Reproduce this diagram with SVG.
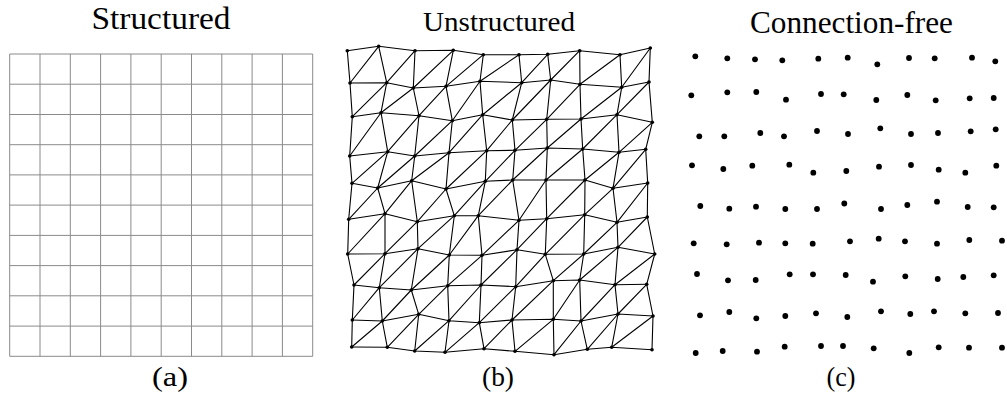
<svg xmlns="http://www.w3.org/2000/svg" width="1007" height="397" viewBox="0 0 1007 397">
<style>
.t{fill:#000;text-anchor:middle}
.grid{fill:none;stroke:#8a8a8a;stroke-width:1}
.edge{fill:none;stroke:#000;stroke-width:1.1;stroke-linejoin:round}
.nd{fill:#000}
.pt{fill:#000}
</style>
<rect width="1007" height="397" fill="#fff"/>
<g id="titles" font-family="'Liberation Serif', 'Times New Roman', serif">
<text class="t" x="161" y="29" font-size="31" textLength="139" lengthAdjust="spacingAndGlyphs">Structured</text>
<text class="t" x="499" y="30.5" font-size="28" textLength="152" lengthAdjust="spacingAndGlyphs">Unstructured</text>
<text class="t" x="851.5" y="33" font-size="31" textLength="203" lengthAdjust="spacingAndGlyphs">Connection-free</text>
<text class="t" x="170" y="385.5" font-size="27" textLength="36" lengthAdjust="spacingAndGlyphs">(a)</text>
<text class="t" x="498" y="385.5" font-size="27" textLength="32" lengthAdjust="spacingAndGlyphs">(b)</text>
<text class="t" x="841" y="385.5" font-size="27" textLength="29" lengthAdjust="spacingAndGlyphs">(c)</text>
</g>
<g id="structured-grid">
<path class="grid" d="M9.7 54V356.3M40 54V356.3M70.3 54V356.3M100.6 54V356.3M130.9 54V356.3M161.2 54V356.3M191.5 54V356.3M221.8 54V356.3M252.1 54V356.3M282.4 54V356.3M312.7 54V356.3M9.7 54H312.7M9.7 84.2H312.7M9.7 114.5H312.7M9.7 144.7H312.7M9.7 174.9H312.7M9.7 205.1H312.7M9.7 235.4H312.7M9.7 265.6H312.7M9.7 295.8H312.7M9.7 326.1H312.7M9.7 356.3H312.7"/>
</g>
<g id="connectors">
<polyline class="edge" points="347.3,50.7 378.7,46.3 415,50.7 453.3,50.3 483.3,54.7 519,54.7 547.7,54.3 579.7,50.7 620,54.7 650.3,48"/>
<polyline class="edge" points="350,83 386.7,82.7 413.3,88 446,86.3 480,81.3 521.7,82.7 550.7,80 580,84.3 621.7,87.3 649,82"/>
<polyline class="edge" points="352.3,116.7 381,112.7 419,115.7 452.3,120.7 482.7,114.7 512.3,120 546.7,119.3 581,119 617,114.7 652.3,122.3"/>
<polyline class="edge" points="349.7,156 387.7,151.7 414.7,156 449,152.7 486.7,150.7 515,150.3 547.3,148 582.7,149 619,152.3 645.7,149.3"/>
<polyline class="edge" points="352,183.3 377.7,188 411.7,180.7 446,189 485.3,181.3 512.7,180 546,180 585,180 613,188.3 647.7,183"/>
<polyline class="edge" points="348.7,219.3 385,213.7 417.3,221.7 454.3,215.7 478.3,215.7 519,220.3 546.7,218.7 584.7,214.7 617,222.3 647.3,217"/>
<polyline class="edge" points="347.7,254 385,253.7 418,248.7 449.3,255 482,255.3 517,249.7 545.3,254.3 583.7,254 618,247.3 654.7,254"/>
<polyline class="edge" points="354,285 379.3,287.7 411.3,290 447.7,285.7 481,285 515.7,286.7 553.3,280.7 579.7,280 615,284.7 646.7,284.3"/>
<polyline class="edge" points="352.3,320 382.3,321 418.7,314.3 449,320.7 479.3,322.7 512,320 553.3,319.3 581,321 618,314 653,316"/>
<polyline class="edge" points="351.7,347 387.3,347.3 414.7,351 445,352.3 484,348.7 515,351.3 554,354.7 587.3,349.3 611.7,347.3 652,349.7"/>
<polyline class="edge" points="347.3,50.7 350,83 352.3,116.7 349.7,156 352,183.3 348.7,219.3 347.7,254 354,285 352.3,320 351.7,347"/>
<polyline class="edge" points="378.7,46.3 386.7,82.7 381,112.7 387.7,151.7 377.7,188 385,213.7 385,253.7 379.3,287.7 382.3,321 387.3,347.3"/>
<polyline class="edge" points="415,50.7 413.3,88 419,115.7 414.7,156 411.7,180.7 417.3,221.7 418,248.7 411.3,290 418.7,314.3 414.7,351"/>
<polyline class="edge" points="453.3,50.3 446,86.3 452.3,120.7 449,152.7 446,189 454.3,215.7 449.3,255 447.7,285.7 449,320.7 445,352.3"/>
<polyline class="edge" points="483.3,54.7 480,81.3 482.7,114.7 486.7,150.7 485.3,181.3 478.3,215.7 482,255.3 481,285 479.3,322.7 484,348.7"/>
<polyline class="edge" points="519,54.7 521.7,82.7 512.3,120 515,150.3 512.7,180 519,220.3 517,249.7 515.7,286.7 512,320 515,351.3"/>
<polyline class="edge" points="547.7,54.3 550.7,80 546.7,119.3 547.3,148 546,180 546.7,218.7 545.3,254.3 553.3,280.7 553.3,319.3 554,354.7"/>
<polyline class="edge" points="579.7,50.7 580,84.3 581,119 582.7,149 585,180 584.7,214.7 583.7,254 579.7,280 581,321 587.3,349.3"/>
<polyline class="edge" points="620,54.7 621.7,87.3 617,114.7 619,152.3 613,188.3 617,222.3 618,247.3 615,284.7 618,314 611.7,347.3"/>
<polyline class="edge" points="650.3,48 649,82 652.3,122.3 645.7,149.3 647.7,183 647.3,217 654.7,254 646.7,284.3 653,316 652,349.7"/>
<polyline class="edge" points="350,83 378.7,46.3"/>
<polyline class="edge" points="352.3,116.7 386.7,82.7 415,50.7"/>
<polyline class="edge" points="349.7,156 381,112.7 413.3,88 453.3,50.3"/>
<polyline class="edge" points="352,183.3 387.7,151.7 419,115.7 446,86.3 483.3,54.7"/>
<polyline class="edge" points="348.7,219.3 377.7,188 414.7,156 452.3,120.7 480,81.3 519,54.7"/>
<polyline class="edge" points="347.7,254 385,213.7 411.7,180.7 449,152.7 482.7,114.7 521.7,82.7 547.7,54.3"/>
<polyline class="edge" points="354,285 385,253.7 417.3,221.7 446,189 486.7,150.7 512.3,120 550.7,80 579.7,50.7"/>
<polyline class="edge" points="352.3,320 379.3,287.7 418,248.7 454.3,215.7 485.3,181.3 515,150.3 546.7,119.3 580,84.3 620,54.7"/>
<polyline class="edge" points="351.7,347 382.3,321 411.3,290 449.3,255 478.3,215.7 512.7,180 547.3,148 581,119 621.7,87.3 650.3,48"/>
<polyline class="edge" points="387.3,347.3 418.7,314.3 447.7,285.7 482,255.3 519,220.3 546,180 582.7,149 617,114.7 649,82"/>
<polyline class="edge" points="414.7,351 449,320.7 481,285 517,249.7 546.7,218.7 585,180 619,152.3 652.3,122.3"/>
<polyline class="edge" points="445,352.3 479.3,322.7 515.7,286.7 545.3,254.3 584.7,214.7 613,188.3 645.7,149.3"/>
<polyline class="edge" points="484,348.7 512,320 553.3,280.7 583.7,254 617,222.3 647.7,183"/>
<polyline class="edge" points="515,351.3 553.3,319.3 579.7,280 618,247.3 647.3,217"/>
<polyline class="edge" points="554,354.7 581,321 615,284.7 654.7,254"/>
<polyline class="edge" points="587.3,349.3 618,314 646.7,284.3"/>
<polyline class="edge" points="611.7,347.3 653,316"/>
</g>
<g id="mesh-nodes" class="nd">
<circle r="1.8" cx="347.3" cy="50.7"/><circle r="1.8" cx="378.7" cy="46.3"/><circle r="1.8" cx="415" cy="50.7"/><circle r="1.8" cx="453.3" cy="50.3"/><circle r="1.8" cx="483.3" cy="54.7"/><circle r="1.8" cx="519" cy="54.7"/><circle r="1.8" cx="547.7" cy="54.3"/><circle r="1.8" cx="579.7" cy="50.7"/><circle r="1.8" cx="620" cy="54.7"/><circle r="1.8" cx="650.3" cy="48"/>
<circle r="1.8" cx="350" cy="83"/><circle r="1.8" cx="386.7" cy="82.7"/><circle r="1.8" cx="413.3" cy="88"/><circle r="1.8" cx="446" cy="86.3"/><circle r="1.8" cx="480" cy="81.3"/><circle r="1.8" cx="521.7" cy="82.7"/><circle r="1.8" cx="550.7" cy="80"/><circle r="1.8" cx="580" cy="84.3"/><circle r="1.8" cx="621.7" cy="87.3"/><circle r="1.8" cx="649" cy="82"/>
<circle r="1.8" cx="352.3" cy="116.7"/><circle r="1.8" cx="381" cy="112.7"/><circle r="1.8" cx="419" cy="115.7"/><circle r="1.8" cx="452.3" cy="120.7"/><circle r="1.8" cx="482.7" cy="114.7"/><circle r="1.8" cx="512.3" cy="120"/><circle r="1.8" cx="546.7" cy="119.3"/><circle r="1.8" cx="581" cy="119"/><circle r="1.8" cx="617" cy="114.7"/><circle r="1.8" cx="652.3" cy="122.3"/>
<circle r="1.8" cx="349.7" cy="156"/><circle r="1.8" cx="387.7" cy="151.7"/><circle r="1.8" cx="414.7" cy="156"/><circle r="1.8" cx="449" cy="152.7"/><circle r="1.8" cx="486.7" cy="150.7"/><circle r="1.8" cx="515" cy="150.3"/><circle r="1.8" cx="547.3" cy="148"/><circle r="1.8" cx="582.7" cy="149"/><circle r="1.8" cx="619" cy="152.3"/><circle r="1.8" cx="645.7" cy="149.3"/>
<circle r="1.8" cx="352" cy="183.3"/><circle r="1.8" cx="377.7" cy="188"/><circle r="1.8" cx="411.7" cy="180.7"/><circle r="1.8" cx="446" cy="189"/><circle r="1.8" cx="485.3" cy="181.3"/><circle r="1.8" cx="512.7" cy="180"/><circle r="1.8" cx="546" cy="180"/><circle r="1.8" cx="585" cy="180"/><circle r="1.8" cx="613" cy="188.3"/><circle r="1.8" cx="647.7" cy="183"/>
<circle r="1.8" cx="348.7" cy="219.3"/><circle r="1.8" cx="385" cy="213.7"/><circle r="1.8" cx="417.3" cy="221.7"/><circle r="1.8" cx="454.3" cy="215.7"/><circle r="1.8" cx="478.3" cy="215.7"/><circle r="1.8" cx="519" cy="220.3"/><circle r="1.8" cx="546.7" cy="218.7"/><circle r="1.8" cx="584.7" cy="214.7"/><circle r="1.8" cx="617" cy="222.3"/><circle r="1.8" cx="647.3" cy="217"/>
<circle r="1.8" cx="347.7" cy="254"/><circle r="1.8" cx="385" cy="253.7"/><circle r="1.8" cx="418" cy="248.7"/><circle r="1.8" cx="449.3" cy="255"/><circle r="1.8" cx="482" cy="255.3"/><circle r="1.8" cx="517" cy="249.7"/><circle r="1.8" cx="545.3" cy="254.3"/><circle r="1.8" cx="583.7" cy="254"/><circle r="1.8" cx="618" cy="247.3"/><circle r="1.8" cx="654.7" cy="254"/>
<circle r="1.8" cx="354" cy="285"/><circle r="1.8" cx="379.3" cy="287.7"/><circle r="1.8" cx="411.3" cy="290"/><circle r="1.8" cx="447.7" cy="285.7"/><circle r="1.8" cx="481" cy="285"/><circle r="1.8" cx="515.7" cy="286.7"/><circle r="1.8" cx="553.3" cy="280.7"/><circle r="1.8" cx="579.7" cy="280"/><circle r="1.8" cx="615" cy="284.7"/><circle r="1.8" cx="646.7" cy="284.3"/>
<circle r="1.8" cx="352.3" cy="320"/><circle r="1.8" cx="382.3" cy="321"/><circle r="1.8" cx="418.7" cy="314.3"/><circle r="1.8" cx="449" cy="320.7"/><circle r="1.8" cx="479.3" cy="322.7"/><circle r="1.8" cx="512" cy="320"/><circle r="1.8" cx="553.3" cy="319.3"/><circle r="1.8" cx="581" cy="321"/><circle r="1.8" cx="618" cy="314"/><circle r="1.8" cx="653" cy="316"/>
<circle r="1.8" cx="351.7" cy="347"/><circle r="1.8" cx="387.3" cy="347.3"/><circle r="1.8" cx="414.7" cy="351"/><circle r="1.8" cx="445" cy="352.3"/><circle r="1.8" cx="484" cy="348.7"/><circle r="1.8" cx="515" cy="351.3"/><circle r="1.8" cx="554" cy="354.7"/><circle r="1.8" cx="587.3" cy="349.3"/><circle r="1.8" cx="611.7" cy="347.3"/><circle r="1.8" cx="652" cy="349.7"/>
</g>
<g id="free-points" class="pt">
<circle r="2.9" cx="695.3" cy="56.3"/><circle r="2.9" cx="727.3" cy="58.3"/><circle r="2.9" cx="755" cy="59.3"/><circle r="2.9" cx="782.3" cy="60.3"/><circle r="2.9" cx="818.3" cy="58.7"/><circle r="2.9" cx="847.7" cy="57.7"/><circle r="2.9" cx="877.3" cy="64.3"/><circle r="2.9" cx="909" cy="58"/><circle r="2.9" cx="934.7" cy="58.3"/><circle r="2.9" cx="972" cy="57.7"/><circle r="2.9" cx="995.3" cy="61.3"/>
<circle r="2.9" cx="691.3" cy="95.3"/><circle r="2.9" cx="727.3" cy="92.3"/><circle r="2.9" cx="756.3" cy="92"/><circle r="2.9" cx="786" cy="99.7"/><circle r="2.9" cx="821" cy="94"/><circle r="2.9" cx="843.7" cy="94.3"/><circle r="2.9" cx="876.3" cy="100"/><circle r="2.9" cx="907.3" cy="95"/><circle r="2.9" cx="935.7" cy="100.3"/><circle r="2.9" cx="969.7" cy="98.3"/><circle r="2.9" cx="993.7" cy="98"/>
<circle r="2.9" cx="699.3" cy="136.3"/><circle r="2.9" cx="724.3" cy="136.3"/><circle r="2.9" cx="760.3" cy="133"/><circle r="2.9" cx="784" cy="136.3"/><circle r="2.9" cx="817" cy="131"/><circle r="2.9" cx="848" cy="134"/><circle r="2.9" cx="880.3" cy="128.3"/><circle r="2.9" cx="911" cy="134"/><circle r="2.9" cx="938" cy="133"/><circle r="2.9" cx="970.7" cy="131.3"/><circle r="2.9" cx="995.7" cy="129.3"/>
<circle r="2.9" cx="692" cy="165.3"/><circle r="2.9" cx="723.3" cy="169"/><circle r="2.9" cx="752.3" cy="165.7"/><circle r="2.9" cx="789.3" cy="164.7"/><circle r="2.9" cx="813.3" cy="172.7"/><circle r="2.9" cx="846.3" cy="171"/><circle r="2.9" cx="879" cy="166.7"/><circle r="2.9" cx="911" cy="165"/><circle r="2.9" cx="938.7" cy="169.7"/><circle r="2.9" cx="965.3" cy="172.7"/><circle r="2.9" cx="996.3" cy="165.7"/>
<circle r="2.9" cx="700.3" cy="206"/><circle r="2.9" cx="729.3" cy="208.7"/><circle r="2.9" cx="756" cy="206.7"/><circle r="2.9" cx="785.3" cy="209"/><circle r="2.9" cx="817" cy="209"/><circle r="2.9" cx="844.3" cy="203.5"/><circle r="2.9" cx="881" cy="209"/><circle r="2.9" cx="907.3" cy="205"/><circle r="2.9" cx="937" cy="201.7"/><circle r="2.9" cx="967.7" cy="207"/><circle r="2.9" cx="993.7" cy="207.3"/>
<circle r="2.9" cx="693.7" cy="243.3"/><circle r="2.9" cx="726.7" cy="244.3"/><circle r="2.9" cx="759" cy="242.7"/><circle r="2.9" cx="785.3" cy="243.3"/><circle r="2.9" cx="812.7" cy="243.7"/><circle r="2.9" cx="850" cy="241.3"/><circle r="2.9" cx="878.7" cy="238.7"/><circle r="2.9" cx="905" cy="241.3"/><circle r="2.9" cx="937" cy="243.7"/><circle r="2.9" cx="969.3" cy="240"/><circle r="2.9" cx="1002" cy="240.7"/>
<circle r="2.9" cx="697" cy="274"/><circle r="2.9" cx="728" cy="280.3"/><circle r="2.9" cx="755.7" cy="280"/><circle r="2.9" cx="789.7" cy="274.3"/><circle r="2.9" cx="813" cy="274.3"/><circle r="2.9" cx="845.7" cy="275"/><circle r="2.9" cx="873" cy="281.7"/><circle r="2.9" cx="905.3" cy="276.3"/><circle r="2.9" cx="937.7" cy="279"/><circle r="2.9" cx="963.3" cy="277"/><circle r="2.9" cx="993.7" cy="275.3"/>
<circle r="2.9" cx="700" cy="315.3"/><circle r="2.9" cx="729.3" cy="312"/><circle r="2.9" cx="756.3" cy="318.3"/><circle r="2.9" cx="785.3" cy="316"/><circle r="2.9" cx="816" cy="313.3"/><circle r="2.9" cx="847.3" cy="317"/><circle r="2.9" cx="881" cy="311.3"/><circle r="2.9" cx="910.3" cy="314"/><circle r="2.9" cx="934" cy="311.3"/><circle r="2.9" cx="965.3" cy="313.3"/><circle r="2.9" cx="998" cy="313"/>
<circle r="2.9" cx="695.7" cy="353"/><circle r="2.9" cx="722.7" cy="351"/><circle r="2.9" cx="757" cy="351.7"/><circle r="2.9" cx="784.7" cy="346.7"/><circle r="2.9" cx="821" cy="346"/><circle r="2.9" cx="843" cy="346"/><circle r="2.9" cx="873.7" cy="348.3"/><circle r="2.9" cx="909.3" cy="353"/><circle r="2.9" cx="938.7" cy="347.3"/><circle r="2.9" cx="969" cy="347.7"/><circle r="2.9" cx="1002" cy="347.7"/>
</g>
</svg>
